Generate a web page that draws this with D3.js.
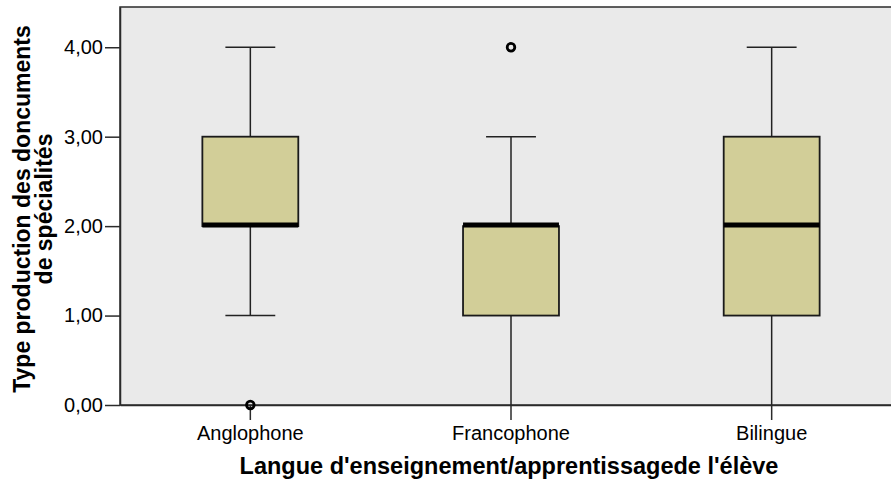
<!DOCTYPE html>
<html>
<head>
<meta charset="utf-8">
<script src="https://cdn.jsdelivr.net/npm/d3@7"></script>
<style>
  body { margin: 0; background: #fff; }
  svg { display: block; font-family: "Liberation Sans", Arial, sans-serif; }
</style>
</head>
<body>
<svg id="chart" width="891" height="479"></svg>
<script>
// box plot statistics per language group
const categories = ['Anglophone', 'Francophone', 'Bilingue']
const whiskerLow = [1, 0, 0]
const q1 = [2, 1, 1]
const median = [2, 2, 2]
const q3 = [3, 2, 3]
const whiskerHigh = [4, 3, 4]
const outliers = [[0], [4], []]
const yTicks = [0, 1, 2, 3, 4]

const svg = d3.select('#chart')
const plot = { left: 120, top: 7, right: 902, bottom: 405 }

const x = d3.scaleBand()
  .domain(categories)
  .range([plot.left, plot.right])
  .paddingInner(0.632)
  .paddingOuter(0.316)

const y = d3.scaleLinear().domain([0, 4.45]).range([plot.bottom, plot.top])

const fmt = v => d3.format('.2f')(v).replace('.', ',')

// plot background
svg.append('rect')
  .attr('x', plot.left).attr('y', plot.top)
  .attr('width', plot.right - plot.left).attr('height', plot.bottom - plot.top)
  .attr('fill', '#eaeaea')
  .attr('stroke', '#2b2b2b')
  .attr('stroke-width', 1.5)

const data = categories.map((c, i) => ({
  cat: c, lo: whiskerLow[i], q1: q1[i], med: median[i], q3: q3[i], hi: whiskerHigh[i], out: outliers[i]
}))

const bw = x.bandwidth()
const capW = bw * 0.52

const g = svg.append('g').selectAll('.box')
  .data(data).join('g')
  .attr('class', 'box')
  .attr('transform', d => `translate(${x(d.cat) + bw / 2},0)`)

// whiskers
g.append('line')
  .attr('y1', d => y(d.q1)).attr('y2', d => y(d.lo))
  .attr('stroke', '#222').attr('stroke-width', 1.5)
g.append('line')
  .attr('y1', d => y(d.q3)).attr('y2', d => y(d.hi))
  .attr('stroke', '#222').attr('stroke-width', 1.5)
g.filter(d => d.lo !== 0).append('line')
  .attr('x1', -capW / 2).attr('x2', capW / 2)
  .attr('y1', d => y(d.lo)).attr('y2', d => y(d.lo))
  .attr('stroke', '#222').attr('stroke-width', 1.5)
g.append('line')
  .attr('x1', -capW / 2).attr('x2', capW / 2)
  .attr('y1', d => y(d.hi)).attr('y2', d => y(d.hi))
  .attr('stroke', '#222').attr('stroke-width', 1.5)

// box
g.append('rect')
  .attr('x', -bw / 2).attr('width', bw)
  .attr('y', d => y(d.q3))
  .attr('height', d => y(d.q1) - y(d.q3))
  .attr('fill', '#d2ce98')
  .attr('stroke', '#1a1a1a').attr('stroke-width', 1.8)

// median
g.append('line')
  .attr('x1', -bw / 2).attr('x2', bw / 2)
  .attr('y1', d => y(d.med) - 1).attr('y2', d => y(d.med) - 1)
  .attr('stroke', '#000').attr('stroke-width', 5)

// axes
const yAxis = d3.axisLeft(y).tickValues(yTicks).tickFormat(fmt).tickSize(15).tickSizeOuter(0).tickPadding(2)
const xAxis = d3.axisBottom(x).tickSize(15).tickSizeOuter(0).tickPadding(6)

const ya = svg.append('g').attr('transform', `translate(${plot.left},0)`).call(yAxis)
const xa = svg.append('g').attr('transform', `translate(0,${plot.bottom})`).call(xAxis)

;[ya, xa].forEach(a => {
  a.select('.domain').attr('stroke', '#2b2b2b').attr('stroke-width', 1.5)
  a.selectAll('.tick line').attr('stroke', '#2b2b2b').attr('stroke-width', 1.5)
  a.selectAll('.tick text')
    .attr('fill', '#000')
    .style('font-size', '20px')
    .style('font-family', '"Liberation Sans", Arial, sans-serif')
})

// outliers (on top of axis)
svg.append('g').selectAll('g')
  .data(data).join('g')
  .attr('transform', d => `translate(${x(d.cat) + bw / 2},0)`)
  .selectAll('circle')
  .data(d => d.out).join('circle')
  .attr('cy', v => y(v))
  .attr('r', 3.8)
  .attr('fill', 'none')
  .attr('stroke', '#000')
  .attr('stroke-width', 2.8)

// axis titles
svg.append('text')
  .attr('x', (plot.left + plot.right) / 2 - 2)
  .attr('y', 474)
  .attr('text-anchor', 'middle')
  .style('font-size', '23.5px').style('font-weight', 'bold')
  .text("Langue d'enseignement/apprentissagede l'élève")

const yt = svg.append('text')
  .attr('transform', 'translate(0,209) rotate(-90)')
  .attr('text-anchor', 'middle')
  .style('font-size', '23px').style('font-weight', 'bold')
yt.append('tspan').attr('x', 0).attr('y', 30).text('Type production des doncuments')
yt.append('tspan').attr('x', 0).attr('y', 52).text('de spécialités')
</script>
</body>
</html>
